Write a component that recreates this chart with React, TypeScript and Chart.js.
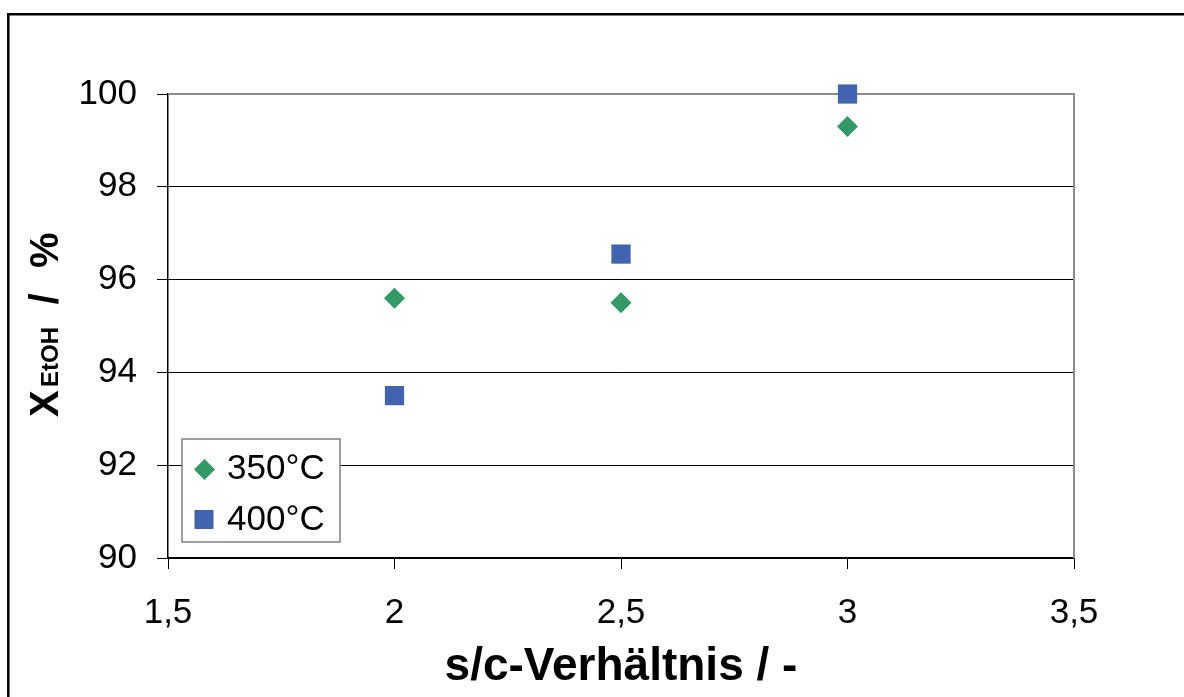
import React, { useEffect, useRef } from 'react';
import { Chart, registerables } from 'chart.js';

Chart.register(...registerables);

// ---- data ----
const xValues = [2, 2.5, 3];
const series350 = [95.6, 95.5, 99.3];
const series400 = [93.5, 96.55, 100];
const xTickValues = [1.5, 2, 2.5, 3, 3.5];
const yTickValues = [90, 92, 94, 96, 98, 100];
const seriesLabels = ['350°C', '400°C'];
const xTitle = 's/c-Verhältnis / -';
const yTitleMain = 'X';
const yTitleSub = 'EtOH';
const yTitleSlash = '/';
const yTitleUnit = '%';

const GREEN = '#339966';
const BLUE = '#4264B0';
const FONT = '"Liberation Sans", Arial, sans-serif';

const fmt = (v: number) => String(v).replace('.', ',');

const decorPlugin = {
  id: 'decor',
  beforeDraw(chart: any) {
    const ctx = chart.ctx;
    ctx.save();
    ctx.fillStyle = '#ffffff';
    ctx.fillRect(0, 0, chart.width, chart.height);
    ctx.restore();
  },
  beforeDatasetsDraw(chart: any) {
    const ctx = chart.ctx;
    const a = chart.chartArea;
    ctx.save();
    ctx.strokeStyle = '#8c8c8c';
    ctx.lineWidth = 2;
    ctx.beginPath();
    ctx.moveTo(a.left, a.top);
    ctx.lineTo(a.right, a.top);
    ctx.lineTo(a.right, a.bottom);
    ctx.stroke();
    ctx.restore();
  },
  afterDatasetsDraw(chart: any) {
    const ctx = chart.ctx;
    const a = chart.chartArea;
    ctx.save();

    // legend
    ctx.fillStyle = '#ffffff';
    ctx.fillRect(182, 439, 158, 103);
    ctx.strokeStyle = '#808080';
    ctx.lineWidth = 1.5;
    ctx.strokeRect(182, 439, 158, 103);

    ctx.fillStyle = GREEN;
    ctx.beginPath();
    ctx.moveTo(204.5 - 10.5, 469.5);
    ctx.lineTo(204.5, 469.5 - 10.5);
    ctx.lineTo(204.5 + 10.5, 469.5);
    ctx.lineTo(204.5, 469.5 + 10.5);
    ctx.closePath();
    ctx.fill();

    ctx.fillStyle = BLUE;
    ctx.fillRect(194.5, 510, 19, 19);

    ctx.fillStyle = '#000000';
    ctx.font = `35px ${FONT}`;
    ctx.textAlign = 'left';
    ctx.textBaseline = 'alphabetic';
    ctx.fillText(seriesLabels[0], 227, 479);
    ctx.fillText(seriesLabels[1], 227, 530);

    // x title
    ctx.font = `bold 46px ${FONT}`;
    ctx.textAlign = 'center';
    ctx.fillText(xTitle, (a.left + a.right) / 2, 680);

    // y title (rotated)
    ctx.save();
    ctx.translate(58, 417);
    ctx.rotate(-Math.PI / 2);
    ctx.textAlign = 'left';
    ctx.font = `bold 40px ${FONT}`;
    ctx.fillText(yTitleMain, 0, 0);
    ctx.font = `bold 24px ${FONT}`;
    ctx.fillText(yTitleSub, 30, 0);
    ctx.font = `bold 40px ${FONT}`;
    ctx.textAlign = 'center';
    ctx.fillText(yTitleSlash, 118, 0);
    ctx.textAlign = 'left';
    ctx.fillText(yTitleUnit, 149, 0);
    ctx.restore();

    // outer frame
    ctx.strokeStyle = '#000000';
    ctx.lineWidth = 2.5;
    ctx.beginPath();
    ctx.moveTo(8.3, chart.height + 5);
    ctx.lineTo(8.3, 14.3);
    ctx.lineTo(chart.width + 5, 14.3);
    ctx.stroke();
    ctx.restore();
  },
};

export default function App() {
  const ref = useRef<HTMLCanvasElement | null>(null);

  useEffect(() => {
    if (!ref.current) return;
    const chart = new Chart(ref.current, {
      type: 'scatter',
      data: {
        datasets: [
          {
            label: seriesLabels[0],
            data: xValues.map((x, i) => ({ x, y: series350[i] })),
            pointStyle: 'rectRot',
            pointRadius: 10.5,
            pointHoverRadius: 10.5,
            pointBorderWidth: 0,
            backgroundColor: GREEN,
            borderColor: GREEN,
            clip: false,
          },
          {
            label: seriesLabels[1],
            data: xValues.map((x, i) => ({ x, y: series400[i] })),
            pointStyle: 'rect',
            pointRadius: 13.6,
            pointHoverRadius: 13.6,
            pointBorderWidth: 0,
            backgroundColor: BLUE,
            borderColor: BLUE,
            clip: false,
          },
        ],
      },
      options: {
        responsive: false,
        animation: false,
        devicePixelRatio: 1,
        layout: { padding: { top: 94, right: 110, left: 0, bottom: 0 } },
        plugins: {
          legend: { display: false },
          tooltip: { enabled: false },
          title: { display: false },
        },
        scales: {
          x: {
            type: 'linear',
            min: 1.5,
            max: 3.5,
            afterBuildTicks: (s: any) => {
              s.ticks = xTickValues.map((v) => ({ value: v }));
            },
            afterFit: (s: any) => {
              s.height = 139;
            },
            grid: {
              display: true,
              drawOnChartArea: false,
              drawTicks: true,
              tickLength: 11,
              tickColor: '#000000',
              tickWidth: 1,
            },
            border: { display: true, color: '#000000', width: 1.5 },
            ticks: {
              autoSkip: false,
              maxRotation: 0,
              padding: 23,
              color: '#000000',
              font: { family: FONT, size: 35 },
              callback: (v: any) => fmt(Number(v)),
            },
          },
          y: {
            type: 'linear',
            min: 90,
            max: 100,
            afterBuildTicks: (s: any) => {
              s.ticks = yTickValues.map((v) => ({ value: v }));
            },
            afterFit: (s: any) => {
              s.width = 168;
            },
            grid: {
              display: true,
              drawOnChartArea: true,
              drawTicks: true,
              tickLength: 11,
              lineWidth: 1,
              color: (c: any) => (c.tick && c.tick.value === 100 ? 'rgba(0,0,0,0)' : '#000000'),
              tickColor: '#000000',
              tickWidth: 1,
            },
            border: { display: true, color: '#000000', width: 1.5 },
            ticks: {
              autoSkip: false,
              padding: 20,
              color: '#000000',
              font: { family: FONT, size: 35 },
              callback: (v: any) => fmt(Number(v)),
            },
          },
        },
      },
      plugins: [decorPlugin],
    });
    return () => chart.destroy();
  }, []);

  return (
    <div style={{ position: 'absolute', left: 0, top: 0, width: 1184, height: 697, overflow: 'hidden' }}>
      <canvas ref={ref} width={1184} height={697} style={{ display: 'block' }} />
    </div>
  );
}
